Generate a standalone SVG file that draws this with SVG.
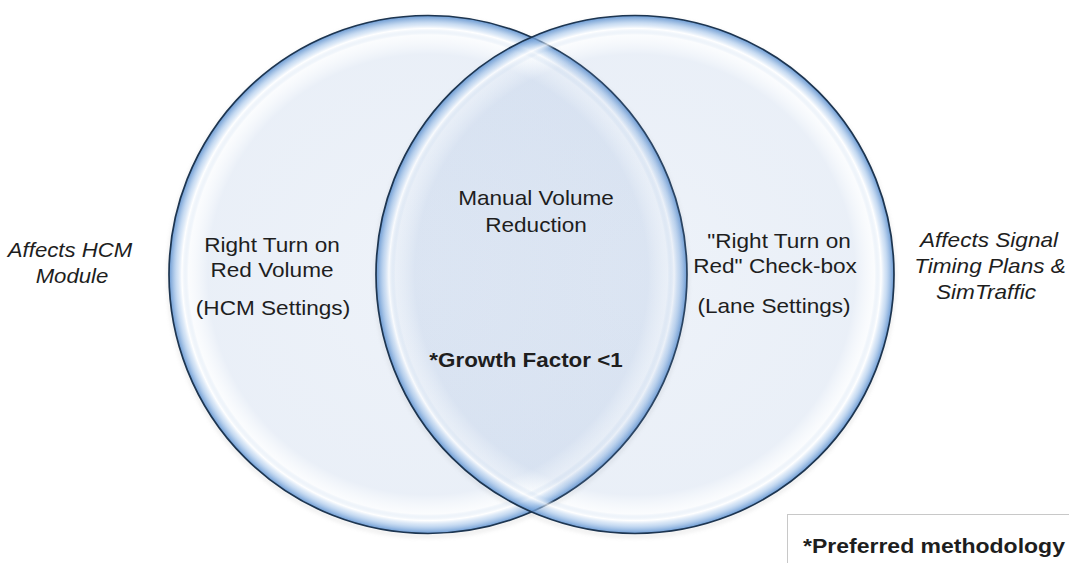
<svg xmlns="http://www.w3.org/2000/svg" width="1069" height="563" viewBox="0 0 1069 563">
  <defs>
    <radialGradient id="bubble" cx="0.5" cy="0.5" r="0.5">
      <stop offset="0" stop-color="#7a9dd0" stop-opacity="0.13"/>
      <stop offset="0.85" stop-color="#7a9dd0" stop-opacity="0.16"/>
      <stop offset="0.925" stop-color="#a8c5e6" stop-opacity="0.05"/>
      <stop offset="0.95" stop-color="#ffffff" stop-opacity="0.7"/>
      <stop offset="0.97" stop-color="#a3c4ea" stop-opacity="0.55"/>
      <stop offset="1" stop-color="#5a8fcf" stop-opacity="0.9"/>
    </radialGradient>
    <filter id="shadow" x="-10%" y="-10%" width="120%" height="120%">
      <feGaussianBlur stdDeviation="2"/>
    </filter>
    <style>
      .rim { fill: url(#bubble); stroke: #1d3550; stroke-width: 1.7; }
      .shadow { fill: none; stroke: #a0a0a0; stroke-width: 3; opacity: 0.25; filter: url(#shadow); }
      .lbl { font-family: "Liberation Sans", Arial, sans-serif; font-size: 20px; fill: #1e1e1e; text-anchor: middle; }
      .bold { font-weight: bold; }
      .ital { font-style: italic; }
    </style>
  </defs>
  <rect width="1069" height="563" fill="#ffffff"/>

  <g id="shadows">
    <circle class="shadow" cx="428" cy="277" r="259"/>
    <circle class="shadow" cx="635" cy="277" r="259"/>
  </g>

  <g id="circle-left">
    <circle class="rim" cx="428" cy="274.5" r="259"/>
  </g>
  <g id="circle-right">
    <circle class="rim" cx="635" cy="274.5" r="259"/>
  </g>

  <g id="label-left">
    <text class="lbl" transform="translate(272,252) scale(1.13,1)">Right Turn on</text>
    <text class="lbl" transform="translate(272,277) scale(1.13,1)">Red Volume</text>
    <text class="lbl" transform="translate(273,315) scale(1.13,1)">(HCM Settings)</text>
  </g>

  <g id="label-center">
    <text class="lbl" transform="translate(536,205) scale(1.13,1)">Manual Volume</text>
    <text class="lbl" transform="translate(536,232) scale(1.13,1)">Reduction</text>
    <text class="lbl bold" transform="translate(526,367) scale(1.12,1)">*Growth Factor &lt;1</text>
  </g>

  <g id="label-right">
    <text class="lbl" transform="translate(779,248) scale(1.13,1)">"Right Turn on</text>
    <text class="lbl" transform="translate(775,273) scale(1.13,1)">Red" Check-box</text>
    <text class="lbl" transform="translate(774,313) scale(1.13,1)">(Lane Settings)</text>
  </g>

  <g id="note-left">
    <text class="lbl ital" transform="translate(70,257) scale(1.11,1)">Affects HCM</text>
    <text class="lbl ital" transform="translate(72,283) scale(1.11,1)">Module</text>
  </g>

  <g id="note-right">
    <text class="lbl ital" transform="translate(989,247) scale(1.13,1)">Affects Signal</text>
    <text class="lbl ital" transform="translate(990,273) scale(1.13,1)">Timing Plans &amp;</text>
    <text class="lbl ital" transform="translate(986,299) scale(1.13,1)">SimTraffic</text>
  </g>

  <g id="legend">
    <rect x="787.5" y="514.5" width="300" height="60" fill="#ffffff" stroke="#c8c8c8" stroke-width="1"/>
    <text class="lbl bold" style="text-anchor:start" transform="translate(803,553) scale(1.15,1)">*Preferred methodology</text>
  </g>
</svg>
